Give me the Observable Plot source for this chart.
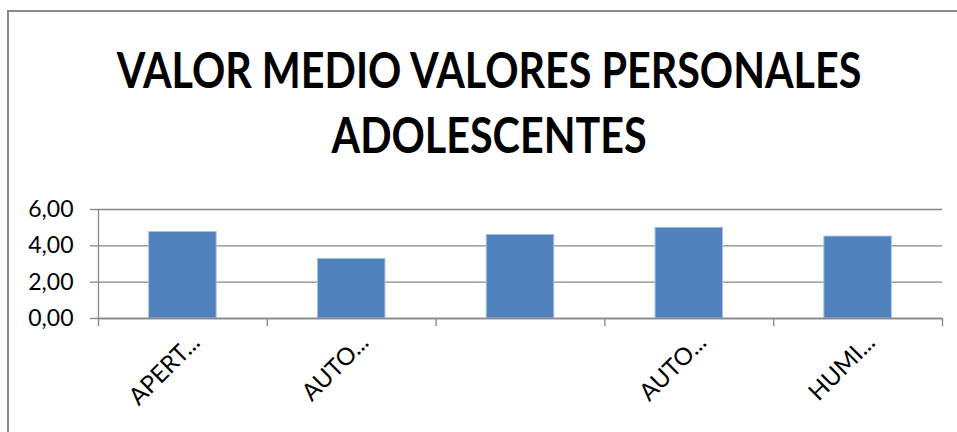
<!DOCTYPE html>
<html>
<head>
<meta charset="utf-8">
<script src="https://cdn.jsdelivr.net/npm/d3@7"></script>
<script src="https://cdn.jsdelivr.net/npm/@observablehq/plot@0.6"></script>
<style>
  html, body { margin: 0; padding: 0; background: #fff; overflow: hidden; }
  #wrap { position: relative; width: 957px; height: 432px; overflow: hidden; font-family: Lato, "Open Sans", sans-serif; }
  #frame { position: absolute; left: 7px; top: 10px; width: 1000px; height: 500px; border: 2px solid #8a8a8a; box-sizing: border-box; pointer-events: none; }
  #title { display: block; }
  #chart svg { display: block; }
</style>
</head>
<body>
<div id="wrap">
  <svg id="title" width="957" height="190"></svg>
  <div id="chart"></div>
  <div id="frame"></div>
</div>
<script>
const titleLines = ["VALOR MEDIO VALORES PERSONALES", "ADOLESCENTES"];
const labels = ["APERT...", "AUTO...", "", "AUTO...", "HUMI..."];
const values = [4.76, 3.28, 4.60, 4.99, 4.51];
const yTicks = [0, 2, 4, 6];

const data = values.map((v, i) => ({i, v, label: labels[i]}));

// Title (real text), horizontally fitted to the reference width
const tsvg = d3.select("#title");
const baselines = [88, 153];
const groups = titleLines.map((t, k) => {
  const g = tsvg.append("g");
  const n = g.append("text")
    .attr("x", 0).attr("y", baselines[k])
    .attr("text-anchor", "middle")
    .attr("font-family", "Lato, 'Open Sans', sans-serif")
    .attr("font-weight", "bold")
    .attr("font-size", 49)
    .attr("fill", "#000")
    .text(t).node();
  return {g, n};
});
const w0 = groups[0].n.getComputedTextLength();
const sx = 745 / w0;
groups.forEach(({g}) => g.attr("transform", `translate(489,0) scale(${sx.toFixed(4)},1)`));

const chart = Plot.plot({
  width: 957,
  height: 242,
  marginTop: 19,
  marginBottom: 114,
  marginLeft: 98,
  marginRight: 15,
  style: {fontFamily: "Lato, 'Open Sans', sans-serif", color: "#000", background: "transparent"},
  x: {type: "linear", domain: [0, labels.length]},
  y: {domain: [0, 6]},
  marks: [
    Plot.gridY(yTicks, {stroke: "#878787", strokeOpacity: 1, strokeWidth: 1.3}),
    Plot.axisY(yTicks, {
      tickFormat: d => d.toFixed(2).replace(".", ","),
      tickSize: 8, tickPadding: 17, fontSize: 23, stroke: "#878787", strokeWidth: 1.3, label: null
    }),
    Plot.rectY(data, {
      x1: d => d.i + 0.3, x2: d => d.i + 0.7, y1: 0, y2: "v",
      fill: "#4f81bd", stroke: "#a9c1df", strokeWidth: 1, inset: 0
    }),
    Plot.ruleX([0], {stroke: "#878787", strokeWidth: 1.3}),
    Plot.ruleY([0], {stroke: "#878787", strokeWidth: 1.3}),
    Plot.axisX(d3.range(labels.length + 1), {
      tickFormat: () => "", tickSize: 8, stroke: "#878787", strokeWidth: 1.3, label: null
    }),
    Plot.text(data, {
      x: d => d.i + 0.5, y: 0, text: "label",
      rotate: -45, textAnchor: "end", dx: 13, dy: 20,
      fontSize: 24, fill: "#000"
    })
  ]
});
document.getElementById("chart").appendChild(chart);
</script>
</body>
</html>
